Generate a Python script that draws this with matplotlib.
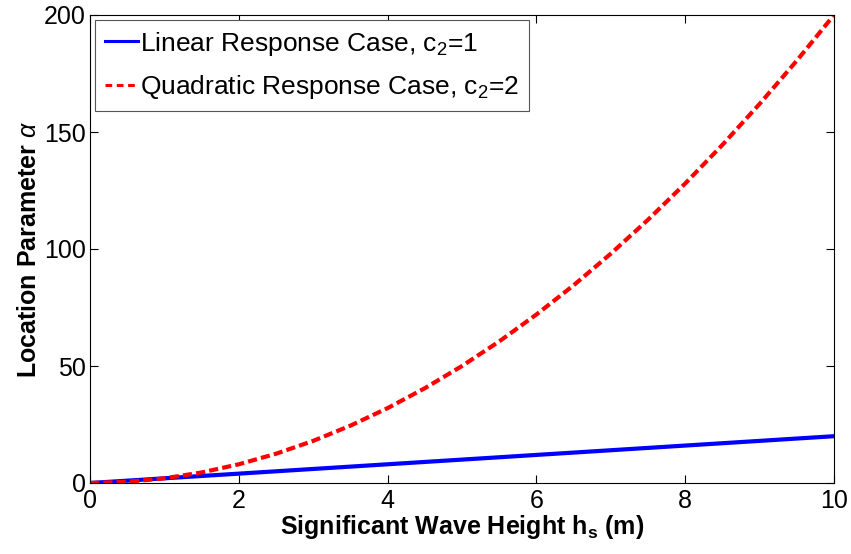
import matplotlib
matplotlib.use("Agg")
import matplotlib.pyplot as plt

# wave height samples (m) and location parameter readings
hs = [0, 0.5, 1, 1.5, 2, 2.5, 3, 3.5, 4, 4.5, 5, 5.5, 6, 6.5, 7, 7.5, 8, 8.5, 9, 9.5, 10]
alpha_linear = [0, 1, 2, 3, 4, 5, 6, 7, 8, 9, 10, 11, 12, 13, 14, 15, 16, 17, 18, 19, 20]
alpha_quadratic = [0, 0.5, 2, 4.5, 8, 12.5, 18, 24.5, 32, 40.5, 50, 60.5, 72, 84.5, 98,
                   112.5, 128, 144.5, 162, 180.5, 200]

xticks = [0, 2, 4, 6, 8, 10]
yticks = [0, 50, 100, 150, 200]

plt.rcParams['font.family'] = ['Liberation Sans', 'DejaVu Sans']
plt.rcParams['mathtext.fontset'] = 'custom'
plt.rcParams['mathtext.rm'] = 'Liberation Sans'
plt.rcParams['mathtext.it'] = 'Liberation Sans:italic'
plt.rcParams['mathtext.bf'] = 'Liberation Sans:bold'

fig = plt.figure(figsize=(8.51, 5.54), dpi=100)
ax = fig.add_axes([90 / 851, 1 - 483 / 554, 744 / 851, 468 / 554])

ax.plot(hs, alpha_linear, color='#0000ff', lw=3, label='Linear Response Case, c$_2$=1')
ax.plot(hs, alpha_quadratic, color='#ff0000', lw=3, ls=(0, (2.2, 1)),
        label='Quadratic Response Case, c$_2$=2')

ax.set_xlim(0, 10)
ax.set_ylim(0, 200)
ax.set_xticks(xticks)
ax.set_yticks(yticks)
ax.tick_params(direction='in', top=True, right=True, labelsize=18, length=6, width=0.8)
ax.tick_params(axis='x', pad=4)
ax.tick_params(axis='y', pad=3)
for s in ax.spines.values():
    s.set_linewidth(0.8)

ax.set_xlabel('Significant Wave Height h$_\\mathbf{s}$ (m)', fontsize=18,
              fontweight='bold', labelpad=0)
ax.set_ylabel('Location Parameter $\\alpha$', fontsize=18, fontweight='bold', labelpad=2)

leg = ax.legend(loc='upper left', fontsize=19, handlelength=1.25, handletextpad=0.1,
                borderaxespad=0.2, fancybox=False, edgecolor='#555555',
                borderpad=0.35, labelspacing=0.6, framealpha=1)
leg.get_frame().set_linewidth(0.8)
for ln in leg.get_lines():
    ln.set_linewidth(2.2)
leg.get_lines()[1].set_dashes((2.2, 1.5))

fig.savefig('out.png', dpi=100)
